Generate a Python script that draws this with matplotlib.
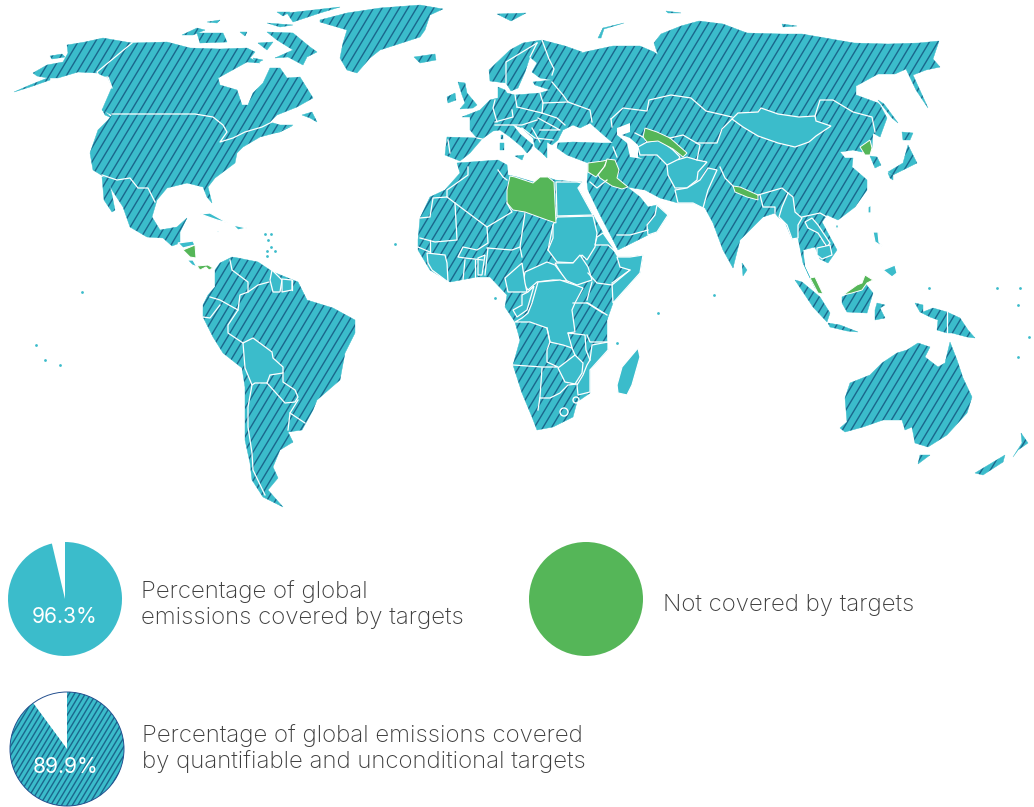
#!/usr/bin/env python3
"""World map of emissions covered by targets, with the three legend circles."""
import matplotlib
import matplotlib.pyplot as plt
import numpy as np
from matplotlib.collections import LineCollection
from matplotlib.patches import Circle, Polygon, Wedge

matplotlib.use("Agg")

TEAL = "#3bbccb"
STRIPE = "#1a678c"
GREEN = "#55b658"
TEXT = "#3d3d3d"

NORTH_AMERICA = [(67, 45), (85, 42), (103, 38), (132, 43), (167, 42), (190, 48), (220, 49), (247, 48), (255, 52),
                 (250, 58), (260, 63), (247, 62), (218, 78), (220, 85), (237, 90), (242, 105), (248, 105), (253, 93),
                 (263, 83), (270, 68), (280, 68), (287, 78), (300, 77), (313, 98), (297, 107), (277, 115), (270, 122),
                 (280, 125), (293, 125), (275, 133), (260, 137), (243, 147), (237, 153), (235, 163), (215, 178),
                 (208, 187), (212, 203), (207, 197), (203, 187), (187, 183), (167, 188), (157, 200), (152, 217),
                 (160, 230), (177, 227), (187, 218), (180, 232), (180, 243), (172, 246), (163, 238), (147, 237),
                 (130, 227), (123, 207), (112, 190), (106, 178), (93, 170), (90, 153), (98, 130), (108, 120),
                 (112, 115), (102, 110), (112, 87), (108, 78), (97, 73), (78, 72), (58, 78), (48, 78), (37, 76),
                 (33, 73), (47, 65), (63, 62), (68, 53)]
BAJA = [(102, 177), (108, 178), (112, 195), (115, 210), (112, 212), (104, 200)]
ALASKA_PENINSULA = [(50, 77), (30, 85), (14, 92), (30, 87), (50, 80)]
SEWARD_SPIT = [(50, 56), (62, 54), (65, 57), (52, 59)]
BAFFIN = [(267, 32), (293, 33), (310, 47), (317, 52), (307, 57), (303, 65), (288, 57), (275, 58), (293, 50), (277, 40)]
VICTORIA = [(197, 33), (223, 33), (227, 42), (200, 43)]
BANKS = [(182, 35), (197, 28), (205, 30), (193, 35)]
ELLESMERE = [(287, 13), (340, 7), (320, 13), (293, 22)]
DEVON = [(267, 23), (293, 25), (280, 27)]
SOUTHAMPTON = [(253, 58), (263, 60), (257, 63)]
AXEL = [(277, 12), (290, 12), (283, 16)]
MELVILLE = [(207, 22), (220, 20), (217, 23)]
PRINCE_WALES = [(240, 32), (247, 32), (245, 36)]
SOMERSET = [(258, 43), (273, 42), (267, 50)]
NEWFOUNDLAND = [(302, 115), (312, 112), (317, 122), (310, 118)]
NOVA_SCOTIA = [(275, 133), (292, 126), (280, 132)]
VANCOUVER = [(102, 109), (112, 118), (105, 115)]
GREENLAND = [(320, 20), (347, 13), (380, 8), (420, 5), (443, 9), (430, 15), (425, 30), (420, 37), (417, 38), (380, 50),
             (370, 58), (357, 73), (347, 70), (340, 58), (343, 43), (347, 30), (320, 22)]
ICELAND = [(414, 57), (435, 54), (436, 60), (420, 63)]
SOUTH_AMERICA = [(232, 257), (220, 263), (215, 270), (215, 287), (208, 295), (203, 305), (203, 317), (213, 337),
                 (223, 353), (242, 368), (245, 387), (245, 440), (250, 463), (252, 480), (263, 497), (283, 507),
                 (268, 490), (278, 478), (273, 467), (280, 450), (293, 442), (288, 432), (302, 430), (313, 410),
                 (317, 400), (340, 380), (345, 353), (355, 333), (355, 320), (333, 308), (307, 300), (298, 282),
                 (273, 272), (270, 270), (258, 262), (238, 258)]
AFRICA = [(457, 163), (498, 160), (507, 165), (508, 175), (517, 177), (537, 183), (547, 177), (555, 180), (577, 182),
          (582, 182), (578, 188), (593, 215), (603, 233), (617, 257), (630, 257), (643, 255), (640, 273), (613, 303),
          (607, 320), (607, 340), (608, 350), (590, 370), (590, 393), (577, 402), (573, 417), (553, 427), (537, 430),
          (532, 417), (522, 393), (513, 365), (520, 340), (515, 322), (505, 307), (507, 295), (490, 277), (477, 277),
          (450, 282), (430, 270), (418, 250), (418, 240), (420, 218), (430, 197), (445, 190), (460, 173)]
EURASIA = [(445, 155), (447, 137), (477, 138), (470, 130), (470, 117), (462, 117), (480, 110), (490, 100), (498, 98),
           (498, 87), (505, 90), (507, 93), (515, 95), (540, 93), (550, 90), (535, 85), (533, 82), (552, 80), (540, 78),
           (532, 72), (537, 63), (530, 57), (525, 72), (518, 88), (511, 91), (506, 83), (490, 81), (489, 70), (510, 50),
           (523, 43), (542, 40), (565, 46), (582, 52), (572, 60), (561, 59), (585, 52), (613, 46), (640, 46), (654, 52),
           (658, 55), (654, 43), (661, 34), (681, 26), (699, 21), (723, 24), (747, 33), (782, 34), (802, 34), (854, 43),
           (888, 44), (919, 43), (939, 41), (933, 59), (940, 67), (926, 70), (913, 75), (928, 108), (916, 90), (906, 69),
           (895, 74), (878, 74), (856, 86), (856, 95), (878, 103), (880, 105), (887, 118), (880, 137), (873, 133),
           (872, 148), (862, 152), (853, 150), (840, 152), (845, 158), (853, 158), (852, 167), (867, 180), (867, 190),
           (855, 207), (838, 220), (827, 215), (822, 222), (837, 250), (828, 263), (820, 259), (815, 247), (803, 250),
           (805, 267), (810, 278), (823, 294), (815, 288), (803, 263), (798, 238), (792, 239), (785, 222), (778, 217),
           (775, 213), (763, 217), (740, 240), (733, 268), (723, 250), (713, 223), (705, 208), (693, 203), (678, 203),
           (660, 198), (645, 190), (627, 187), (640, 197), (648, 207), (657, 205), (668, 215), (657, 232), (648, 235),
           (618, 250), (612, 238), (600, 215), (588, 190), (587, 182), (588, 172), (588, 163), (567, 155), (557, 148),
           (558, 143), (573, 142), (600, 143), (613, 143), (607, 138), (590, 123), (580, 128), (573, 125), (563, 130),
           (558, 140), (552, 145), (547, 142), (547, 158), (542, 153), (535, 147), (533, 138), (522, 128), (512, 124),
           (520, 134), (533, 145), (531, 149), (527, 153), (522, 147), (510, 137), (500, 130), (493, 131), (482, 139),
           (470, 153), (460, 161)]
BRITAIN = [(458, 82), (465, 83), (467, 93), (477, 105), (473, 108), (460, 109), (465, 103), (462, 95)]
IRELAND = [(447, 97), (455, 93), (456, 100), (448, 103)]
SVALBARD = [(497, 14), (526, 13), (511, 21)]
NOVAYA_ZEMLYA = [(598, 38), (603, 28), (624, 23), (604, 29), (601, 38)]
FRANZ_JOSEF = [(666, 11), (681, 13), (668, 13)]
SEVERNAYA = [(782, 24), (797, 26), (783, 27)]
CORSICA = [(501, 135), (503, 135), (503, 139), (501, 139)]
SARDINIA = [(500, 143), (504, 143), (504, 150), (500, 150)]
SICILY = [(515, 156), (524, 155), (522, 160)]
SAKHALIN = [(878, 100), (884, 104), (898, 123), (892, 118)]
HOKKAIDO = [(902, 132), (913, 133), (910, 140), (903, 140)]
HONSHU = [(888, 172), (903, 163), (908, 145), (917, 163), (907, 168), (893, 175)]
KYUSHU = [(888, 173), (893, 175), (893, 180), (890, 178)]
SOUTH_KOREA = [(870, 156), (877, 157), (881, 165), (875, 168)]
SRI_LANKA = [(742, 263), (747, 270), (743, 276)]
SUMATRA = [(795, 280), (802, 282), (820, 297), (830, 313), (827, 322), (813, 307)]
BORNEO = [(842, 297), (860, 288), (865, 283), (873, 293), (867, 313), (847, 312), (842, 303)]
SULAWESI = [(877, 303), (885, 305), (880, 308), (885, 318), (875, 320), (875, 310)]
NEW_GUINEA = [(915, 303), (923, 305), (923, 312), (933, 308), (947, 312), (960, 318), (968, 330), (975, 338), (967, 337),
              (952, 333), (947, 333), (937, 330), (938, 320), (930, 317), (920, 312)]
JAVA = [(828, 323), (840, 325), (858, 332), (847, 331), (830, 327)]
AUSTRALIA = [(840, 428), (847, 422), (845, 398), (850, 383), (870, 375), (882, 363), (897, 353), (907, 350), (918, 343),
             (930, 347), (925, 357), (938, 367), (945, 363), (950, 342), (957, 360), (963, 378), (972, 397), (967, 413),
             (947, 435), (928, 447), (915, 443), (912, 427), (905, 430), (902, 420), (883, 420), (863, 427), (845, 432)]
TASMANIA = [(920, 455), (930, 455), (918, 464)]
NZ_SOUTH = [(975, 473), (1005, 455), (1003, 462), (983, 475)]
NZ_NORTH = [(1013, 457), (1022, 443), (1021, 433), (1028, 443), (1018, 450)]

HATCHED_LAND = [NORTH_AMERICA, BAJA, ALASKA_PENINSULA, SEWARD_SPIT, BAFFIN, VICTORIA, BANKS, ELLESMERE, DEVON,
                SOUTHAMPTON, AXEL, MELVILLE, PRINCE_WALES, SOMERSET, NEWFOUNDLAND, NOVA_SCOTIA, VANCOUVER, GREENLAND,
                ICELAND, SOUTH_AMERICA, AFRICA, EURASIA, BRITAIN, IRELAND, SVALBARD, NOVAYA_ZEMLYA, FRANZ_JOSEF,
                SEVERNAYA, CORSICA, SARDINIA, SICILY, SAKHALIN, HOKKAIDO, HONSHU, KYUSHU, SOUTH_KOREA,
                SRI_LANKA, SUMATRA, BORNEO, SULAWESI, NEW_GUINEA, JAVA, AUSTRALIA, TASMANIA, NZ_SOUTH, NZ_NORTH]

CASPIAN = [(617, 128), (630, 123), (630, 132), (622, 135), (630, 138), (638, 145), (638, 157), (643, 159), (630, 157),
           (627, 143), (617, 135)]

# Countries with targets but no stripes.
EGYPT = [(556, 182), (577, 182), (582, 183), (578, 188), (593, 215), (557, 216)]
SUDAN = [(557, 217), (593, 216), (597, 233), (595, 247), (587, 260), (582, 255), (577, 263), (557, 262), (548, 250),
         (553, 238), (553, 225)]
SOUTH_SUDAN = [(555, 263), (573, 263), (580, 255), (588, 267), (592, 280), (577, 285), (565, 280)]
ERITREA = [(597, 237), (603, 233), (617, 253), (608, 245), (595, 245)]
SOMALIA = [(617, 257), (630, 257), (643, 255), (640, 273), (613, 303), (612, 283), (630, 270), (620, 267)]
CAR = [(525, 272), (547, 262), (555, 265), (567, 281), (553, 280), (537, 282), (528, 290), (523, 283)]
CAMEROON = [(505, 278), (522, 263), (525, 283), (527, 292), (508, 292)]
CONGO = [(534, 286), (527, 310), (517, 317), (513, 310), (522, 305), (522, 295), (528, 292)]
DRC = [(538, 282), (560, 280), (575, 285), (583, 288), (575, 303), (572, 310), (575, 332), (568, 333), (572, 348),
       (563, 345), (550, 342), (547, 328), (530, 322), (515, 322), (522, 318), (528, 313), (532, 303)]
MOZAMBIQUE = [(608, 342), (608, 350), (590, 370), (590, 392), (578, 395), (577, 385), (583, 375), (587, 365), (590, 360),
              (592, 345)]
ZIMBABWE = [(558, 368), (575, 355), (583, 363), (582, 373), (575, 384), (565, 382)]
MADAGASCAR = [(638, 348), (640, 357), (632, 385), (627, 395), (618, 393), (617, 385), (622, 367)]
GUINEA = [(427, 253), (445, 255), (447, 263), (448, 282), (432, 270), (428, 263)]
BENIN = [(478, 258), (485, 255), (482, 275), (478, 275)]
OMAN = [(657, 205), (668, 215), (657, 232), (648, 235), (647, 225), (655, 215)]
TURKMENISTAN = [(647, 142), (660, 140), (673, 150), (680, 157), (677, 162), (667, 165), (657, 155), (640, 155), (638, 147)]
AFGHANISTAN = [(677, 160), (687, 157), (697, 160), (707, 162), (698, 172), (697, 180), (687, 188), (675, 188), (668, 175),
               (667, 165)]
PAKISTAN = [(708, 168), (717, 170), (708, 190), (703, 208), (693, 203), (678, 203), (675, 190), (687, 188), (700, 180)]
MONGOLIA = [(732, 119), (738, 113), (758, 112), (761, 108), (778, 114), (799, 117), (815, 116), (816, 121), (831, 126),
            (816, 136), (809, 142), (795, 147), (778, 143), (758, 136), (743, 127)]
MYANMAR = [(788, 193), (793, 197), (795, 212), (802, 218), (798, 225), (798, 238), (792, 239), (787, 225), (779, 217),
           (782, 207)]
LAOS = [(805, 222), (812, 218), (818, 225), (830, 243), (827, 247), (818, 233), (808, 228)]
CAMBODIA = [(817, 248), (830, 245), (832, 255), (822, 259), (817, 255)]
LUZON = [(873, 232), (878, 232), (879, 242), (883, 247), (875, 242)]
MINDANAO = [(883, 270), (895, 265), (897, 273), (892, 277)]
TAIWAN = [(868, 207), (871, 205), (871, 213), (868, 213)]
HAINAN = [(835, 225), (839, 225), (837, 230)]
CUBA = [(200, 214), (210, 213), (228, 223), (217, 220)]
HISPANIOLA = [(233, 225), (247, 228), (238, 230)]
JAMAICA = [(216, 231), (220, 231), (218, 233)]
HONDURAS = [(178, 243), (193, 241), (195, 245), (183, 248)]
COSTA_RICA = [(187, 260), (193, 260), (197, 267), (192, 265)]
BOLIVIA = [(243, 343), (253, 338), (272, 352), (273, 358), (283, 367), (283, 373), (270, 375), (267, 383), (255, 383),
           (252, 385), (245, 368)]
GUYANA = [(272, 270), (282, 280), (280, 292), (273, 292), (270, 280)]
SURINAME = [(282, 279), (292, 280), (292, 290), (282, 292)]

SOLID_COUNTRIES = [EGYPT, SUDAN, SOUTH_SUDAN, ERITREA, SOMALIA, CAR, CAMEROON, CONGO, DRC, MOZAMBIQUE, ZIMBABWE,
                   MADAGASCAR, GUINEA, BENIN, OMAN, TURKMENISTAN, AFGHANISTAN, PAKISTAN, MONGOLIA, MYANMAR, LAOS,
                   CAMBODIA, LUZON, MINDANAO, TAIWAN, HAINAN, CUBA, HISPANIOLA, JAMAICA, HONDURAS, COSTA_RICA, BOLIVIA,
                   GUYANA, SURINAME]

# Countries not covered.
LIBYA = [(510, 176), (515, 177), (533, 183), (540, 177), (548, 177), (554, 182), (556, 223), (547, 220), (525, 212),
         (513, 210), (507, 203), (507, 190)]
SYRIA = [(588, 163), (603, 161), (607, 160), (604, 167), (596, 177), (588, 172)]
IRAQ = [(607, 159), (615, 160), (619, 170), (617, 178), (628, 187), (622, 189), (612, 186), (600, 178), (598, 175), (605, 166)]
UZBEKISTAN = [(645, 128), (657, 132), (670, 138), (678, 145), (687, 153), (683, 157), (673, 149), (658, 141), (647, 142),
              (643, 137)]
NORTH_KOREA = [(860, 147), (870, 140), (872, 148), (870, 155), (865, 155)]
NEPAL = [(733, 186), (740, 187), (758, 195), (758, 200), (747, 197), (735, 192)]
MALAYA = [(810, 278), (815, 277), (823, 294), (818, 293)]
SARAWAK = [(843, 295), (857, 285), (862, 283), (865, 275), (873, 280), (867, 283), (862, 290), (852, 293)]
NICARAGUA = [(183, 250), (195, 245), (196, 258), (190, 257)]
PANAMA = [(197, 266), (208, 265), (213, 268), (209, 270), (206, 267), (200, 270)]

GREEN_COUNTRIES = [LIBYA, SYRIA, IRAQ, UZBEKISTAN, NORTH_KOREA, NEPAL, MALAYA, SARAWAK, NICARAGUA, PANAMA]

BORDERS = [
    [(112, 114), (195, 114), (213, 117), (223, 125), (227, 132), (220, 142), (233, 138), (245, 132), (262, 127), (272, 122)],
    [(132, 43), (97, 72), (100, 78), (108, 77), (112, 88)],
    [(102, 175), (117, 180), (130, 178), (138, 188), (148, 188), (155, 202)],
    [(230, 260), (232, 270), (248, 282), (248, 292), (258, 285), (269, 282)],
    [(248, 292), (240, 295), (238, 310), (228, 325), (228, 333), (243, 343)],
    [(210, 297), (220, 300), (238, 310)],
    [(220, 305), (210, 318), (203, 317)],
    [(252, 385), (248, 407), (248, 427), (252, 453), (253, 470), (265, 495)],
    [(267, 383), (285, 403), (295, 402), (298, 397), (295, 390), (283, 382), (283, 373)],
    [(298, 400), (290, 413), (305, 423)],
    [(290, 413), (288, 430)],
    [(292, 280), (292, 290)],
    [(468, 167), (468, 175), (447, 190), (447, 197), (433, 198), (430, 217), (420, 218)],
    [(447, 197), (487, 227), (512, 212), (507, 203)],
    [(498, 170), (503, 177), (507, 180)],
    [(455, 203), (457, 240), (435, 242), (420, 238)],
    [(487, 227), (488, 243), (477, 250), (463, 247), (458, 257), (465, 258), (483, 260)],
    [(525, 213), (520, 247), (522, 257)],
    [(487, 248), (512, 250), (520, 247)],
    [(488, 248), (485, 275)],
    [(465, 260), (463, 280)],
    [(475, 260), (475, 278)],
    [(430, 252), (418, 247)],
    [(430, 240), (430, 252)],
    [(553, 225), (548, 250)],
    [(588, 273), (597, 283), (612, 285), (630, 270)],
    [(592, 282), (587, 300)],
    [(587, 303), (603, 313)],
    [(573, 303), (588, 303), (607, 315)],
    [(587, 335), (590, 342), (608, 342)],
    [(568, 333), (585, 335), (586, 350), (590, 360)],
    [(572, 348), (575, 355)],
    [(547, 328), (550, 342), (547, 350), (547, 362), (558, 367), (542, 367), (513, 365)],
    [(542, 368), (540, 397), (538, 410)],
    [(540, 398), (550, 398), (560, 393), (568, 385), (577, 384)],
    [(617, 235), (630, 235), (648, 230)],
    [(590, 182), (597, 188), (607, 180)],
    [(617, 157), (613, 147)],
    [(611, 119), (623, 108), (647, 111), (649, 100), (671, 95), (691, 98), (706, 111), (732, 117)],
    [(732, 119), (722, 129), (717, 143), (696, 143)],
    [(611, 119), (612, 127)],
    [(635, 133), (643, 137)],
    [(670, 138), (683, 135), (700, 145), (697, 160)],
    [(815, 116), (820, 100), (833, 100), (853, 112), (872, 117), (875, 132)],
    [(542, 40), (549, 59), (554, 69), (552, 75)],
    [(537, 43), (506, 62), (506, 83)],
    [(537, 43), (530, 57)],
    [(552, 82), (563, 95), (568, 102), (590, 110), (592, 122)],
    [(515, 95), (517, 107)],
    [(495, 100), (493, 108), (497, 122)],
    [(517, 107), (542, 113)],
    [(540, 93), (543, 103), (542, 113)],
    [(543, 103), (568, 102)],
    [(448, 140), (450, 153)],
    [(542, 113), (557, 118), (565, 125)],
    [(538, 118), (560, 130), (540, 130)],
    [(495, 122), (513, 117), (512, 110)],
    [(495, 125), (522, 125), (537, 120)],
    [(522, 128), (535, 138), (553, 140)],
    [(532, 128), (540, 142)],
    [(477, 138), (482, 139)],
    [(720, 167), (725, 178), (733, 186)],
    [(758, 195), (782, 188), (788, 193)],
    [(760, 195), (763, 207), (775, 207), (775, 213)],
    [(802, 217), (820, 213), (827, 217)],
    [(947, 312), (947, 333)],
]

LAKES_RINGS = [(564, 412, 4), (576, 400, 3)]

ISLAND_X = [265, 271, 268, 271, 267, 275, 267, 395, 495, 658, 714, 617, 929, 997, 1020, 1018, 1018, 1029, 82, 36, 45, 60]
ISLAND_Y = [234, 234, 240, 247, 251, 251, 256, 244, 298, 313, 295, 343, 288, 288, 288, 305, 357, 337, 292, 345, 360, 365]

COVERED_PCT = 96.3
QUANTIFIABLE_PCT = 89.9
CIRCLE_RADIUS = 57


def stripes(ax, clip_patch, bounds, spacing):
    """Draw the slanted stripes, clipped to clip_patch. The phase is shared so stripes run across borders."""
    xmin, ymin, xmax, ymax = bounds
    slant = np.tan(np.radians(31))
    low = xmin + slant * ymin
    high = xmax + slant * ymax
    offsets = np.arange(np.floor(low / spacing) * spacing, high + spacing, spacing)
    segments = [[(c - slant * ymin, ymin), (c - slant * ymax, ymax)] for c in offsets]
    lines = LineCollection(segments, colors=STRIPE, linewidths=1.0, zorder=clip_patch.get_zorder() + 0.1)
    ax.add_collection(lines)
    lines.set_clip_path(clip_patch)


def main():
    fig = plt.figure(figsize=(10.34, 8.07), dpi=100)
    ax = fig.add_axes([0, 0, 1, 1])
    ax.set_xlim(0, 1034)
    ax.set_ylim(807, 0)
    ax.axis("off")

    for outline in HATCHED_LAND:
        patch = Polygon(outline, closed=True, facecolor=TEAL, edgecolor=TEAL, linewidth=0.3, zorder=1)
        ax.add_patch(patch)
        xs, ys = zip(*outline)
        stripes(ax, patch, (min(xs), min(ys), max(xs), max(ys)), 8.6)

    ax.add_patch(Polygon(CASPIAN, closed=True, facecolor="white", edgecolor="none", zorder=2))
    for outline in SOLID_COUNTRIES:
        ax.add_patch(Polygon(outline, closed=True, facecolor=TEAL, edgecolor="white", linewidth=0.9, zorder=3))
    for outline in GREEN_COUNTRIES:
        ax.add_patch(Polygon(outline, closed=True, facecolor=GREEN, edgecolor="white", linewidth=0.7, zorder=4))
    for border in BORDERS:
        xs, ys = zip(*border)
        ax.plot(xs, ys, color="white", linewidth=0.9, solid_joinstyle="round", zorder=5)
    for x, y, r in LAKES_RINGS:
        ax.add_patch(Circle((x, y), r, facecolor="none", edgecolor="white", linewidth=1.0, zorder=5))
    ax.scatter(ISLAND_X, ISLAND_Y, s=4, color=TEAL, linewidths=0, zorder=2)

    # Legend circles: angles grow clockwise on screen because the y axis is flipped.
    ax.add_patch(Wedge((65, 599), CIRCLE_RADIUS, -90, -90 + 3.6 * COVERED_PCT, facecolor=TEAL, edgecolor="none", zorder=3))
    ax.add_patch(Circle((586, 599), CIRCLE_RADIUS, facecolor=GREEN, edgecolor="none", zorder=3))
    wedge = Wedge((67, 749), CIRCLE_RADIUS, -90, -90 + 3.6 * QUANTIFIABLE_PCT, facecolor=TEAL, edgecolor="none", zorder=3)
    ax.add_patch(wedge)
    stripes(ax, wedge, (5, 687, 130, 812), 5.4)
    ax.add_patch(Circle((67, 749), CIRCLE_RADIUS, facecolor="none", edgecolor="#24508f", linewidth=0.7, zorder=4))

    font = dict(family=["Inter", "DejaVu Sans"], fontweight="light", color=TEXT, va="center", ha="left", fontsize=17.35)
    ax.text(141, 592, "Percentage of global", **font)
    ax.text(141, 618, "emissions covered by targets", **font)
    ax.text(663, 605, "Not covered by targets", **font)
    ax.text(142, 736, "Percentage of global emissions covered", **font)
    ax.text(142, 762, "by quantifiable and unconditional targets", **font)
    pct = dict(family=["Inter", "DejaVu Sans"], color="white", va="center", ha="center", fontsize=15.2, zorder=6)
    ax.text(65, 617, f"{COVERED_PCT}%", **pct)
    ax.text(66, 767, f"{QUANTIFIABLE_PCT}%", **pct)

    fig.savefig("out.png", dpi=100)


if __name__ == "__main__":
    main()
